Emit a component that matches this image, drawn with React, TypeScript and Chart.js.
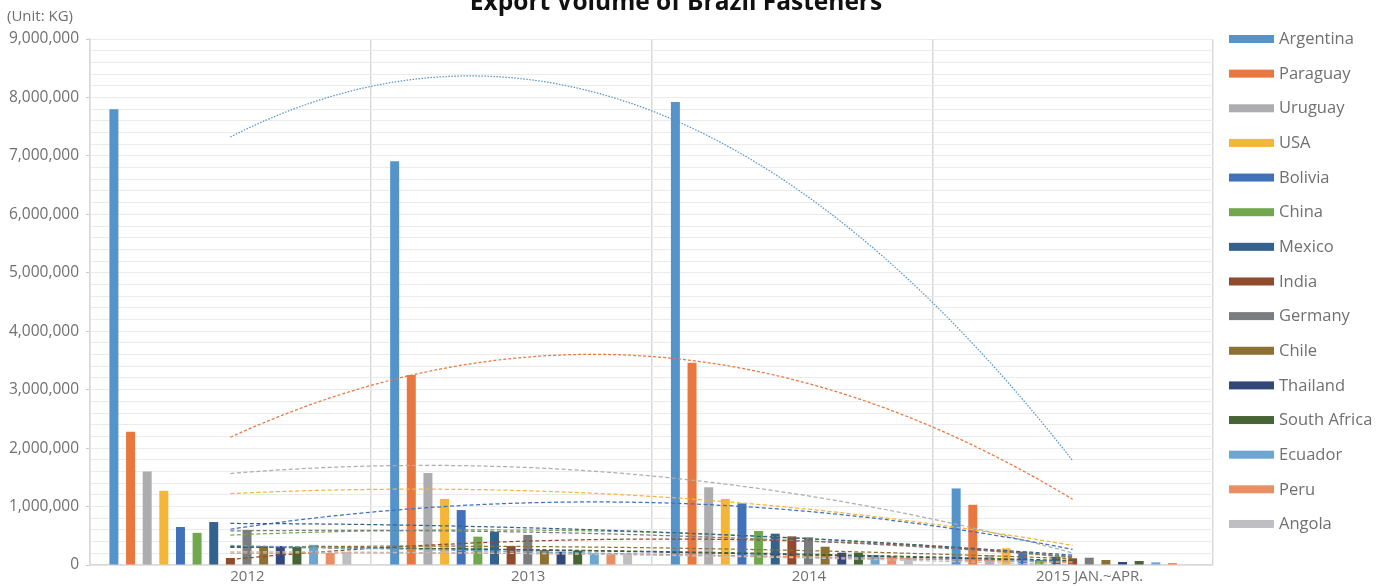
import React, { useEffect, useRef } from 'react';
import { Chart, registerables } from 'chart.js';

Chart.register(...registerables);

// Export volume (kg) per destination country
const periods = ['2012', '2013', '2014', '2015 JAN.~APR.'];

const argentina = [7800000, 6910000, 7920000, 1310000];
const paraguay = [2280000, 3250000, 3460000, 1030000];
const uruguay = [1600000, 1575000, 1330000, 171000];
const usa = [1270000, 1130000, 1130000, 285000];
const bolivia = [650000, 940000, 1055000, 228000];
const china = [550000, 485000, 582000, 86000];
const mexico = [735000, 570000, 536000, 142000];
const india = [120000, 325000, 490000, 114000];
const germany = [600000, 515000, 474000, 125000];
const chile = [325000, 256000, 313000, 86000];
const thailand = [325000, 228000, 211000, 51000];
const southAfrica = [310000, 245000, 211000, 68000];
const ecuador = [345000, 200000, 171000, 46000];
const peru = [205000, 188000, 154000, 34000];
const angola = [225000, 200000, 125000, 0];

const countries = [
  'Argentina', 'Paraguay', 'Uruguay', 'USA', 'Bolivia', 'China', 'Mexico', 'India',
  'Germany', 'Chile', 'Thailand', 'South Africa', 'Ecuador', 'Peru', 'Angola',
];
const seriesValues = [
  argentina, paraguay, uruguay, usa, bolivia, china, mexico, india,
  germany, chile, thailand, southAfrica, ecuador, peru, angola,
];
const seriesColors = [
  '#5594CA', '#E8783F', '#ADADB0', '#F5B537', '#4071BA', '#71A84F', '#33628F', '#914A2C',
  '#7B7C80', '#8C7133', '#334879', '#476435', '#6EA6D2', '#EA8F63', '#BFBFC3',
];

const yTickMax = 9000000;
const yTickStep = 200000;
const yLabelStep = 1000000;

const FONT = "'Open Sans', 'Noto Sans', sans-serif";
const TEXT_COLOR = '#707070';

// Least-squares quadratic fit over category indices 0..n-1
function quadFit(values: number[]): [number, number, number] {
  let s0 = 0, s1 = 0, s2 = 0, s3 = 0, s4 = 0, t0 = 0, t1 = 0, t2 = 0;
  values.forEach((v, i) => {
    if (v === null || v === undefined) return;
    s0 += 1; s1 += i; s2 += i * i; s3 += i * i * i; s4 += i * i * i * i;
    t0 += v; t1 += v * i; t2 += v * i * i;
  });
  const m = [
    [s0, s1, s2, t0],
    [s1, s2, s3, t1],
    [s2, s3, s4, t2],
  ];
  for (let c = 0; c < 3; c++) {
    let p = c;
    for (let r = c + 1; r < 3; r++) if (Math.abs(m[r][c]) > Math.abs(m[p][c])) p = r;
    [m[c], m[p]] = [m[p], m[c]];
    for (let r = 0; r < 3; r++) {
      if (r === c) continue;
      const f = m[r][c] / m[c][c];
      for (let k = c; k < 4; k++) m[r][k] -= f * m[c][k];
    }
  }
  return [m[0][3] / m[0][0], m[1][3] / m[1][1], m[2][3] / m[2][2]];
}

const trendlinePlugin = {
  id: 'polyTrendlines',
  afterDatasetsDraw(chart: any) {
    const { ctx, chartArea, scales } = chart;
    const xs = scales.x;
    const ys = scales.y;
    ctx.save();
    ctx.beginPath();
    ctx.rect(chartArea.left, chartArea.top, chartArea.width, chartArea.height);
    ctx.clip();
    chart.data.datasets.forEach((ds: any, i: number) => {
      const values = ds.data as number[];
      const [a, b, c] = quadFit(values);
      const last = values.length - 1;
      const steps = 120;
      ctx.beginPath();
      for (let k = 0; k <= steps; k++) {
        const t = (k / steps) * last;
        const px = xs.getPixelForValue(t);
        const py = ys.getPixelForValue(a + b * t + c * t * t);
        if (k === 0) ctx.moveTo(px, py);
        else ctx.lineTo(px, py);
      }
      ctx.strokeStyle = ds.backgroundColor;
      ctx.lineWidth = 1.25;
      ctx.setLineDash(i === 0 ? [1.5, 1.5] : i === 1 ? [3, 2] : [4, 2.5]);
      ctx.stroke();
    });
    ctx.restore();
  },
};

const decorationsPlugin = {
  id: 'decorations',
  afterDraw(chart: any) {
    const { ctx } = chart;
    ctx.save();
    // title
    ctx.fillStyle = '#111111';
    ctx.font = `bold 24.5px ${FONT}`;
    ctx.textAlign = 'center';
    ctx.textBaseline = 'alphabetic';
    ctx.fillText('Export Volume of Brazil Fasteners', 676, 10);
    // unit label
    ctx.fillStyle = TEXT_COLOR;
    ctx.font = `15px ${FONT}`;
    ctx.textAlign = 'left';
    ctx.textBaseline = 'middle';
    ctx.fillText('(Unit: KG)', 7, 17);
    // legend
    ctx.font = `16.5px ${FONT}`;
    chart.data.datasets.forEach((ds: any, i: number) => {
      const cy = 39 + i * 34.64;
      ctx.fillStyle = ds.backgroundColor;
      ctx.fillRect(1229, cy - 4, 45, 8);
      ctx.fillStyle = TEXT_COLOR;
      ctx.fillText(ds.label, 1279, cy + 0.5);
    });
    ctx.restore();
  },
};

export default function App() {
  const canvasRef = useRef<HTMLCanvasElement | null>(null);

  useEffect(() => {
    const canvas = canvasRef.current;
    if (!canvas) return;
    const chart = new Chart(canvas, {
      type: 'bar',
      data: {
        labels: periods,
        datasets: countries.map((name, i) => ({
          label: name,
          data: seriesValues[i],
          backgroundColor: seriesColors[i],
          categoryPercentage: 0.889,
          barPercentage: 0.54,
        })),
      },
      options: {
        responsive: false,
        animation: false,
        devicePixelRatio: 1,
        layout: { padding: { top: 39, right: 175, left: 0, bottom: 0 } },
        plugins: {
          legend: { display: false },
          title: { display: false },
          tooltip: { enabled: false },
        },
        scales: {
          x: {
            grid: { offset: true, color: '#d9d9d9', lineWidth: 1.5, drawTicks: false },
            border: { color: '#d9d9d9', width: 1.5 },
            ticks: { color: TEXT_COLOR, font: { family: FONT, size: 15 }, padding: 3, labelOffset: 17 },
            afterFit: (scale: any) => { scale.height = 21; },
          },
          y: {
            min: 0,
            max: yTickMax,
            grid: {
              color: '#ebebeb',
              lineWidth: 1,
              tickLength: 4,
              tickColor: (c: any) => (c.tick && c.tick.value % yLabelStep === 0 ? '#c8c8c8' : 'rgba(0,0,0,0)'),
            },
            border: { color: '#d9d9d9', width: 1.5 },
            ticks: {
              stepSize: yTickStep,
              color: TEXT_COLOR,
              font: { family: FONT, size: 15.5 },
              padding: 7,
              autoSkip: false,
              callback: (v: any) => (Number(v) % yLabelStep === 0 ? Number(v).toLocaleString('en-US') : ''),
            },
            afterFit: (scale: any) => { scale.width = 90; },
          },
        },
      },
      plugins: [trendlinePlugin, decorationsPlugin],
    });
    return () => chart.destroy();
  }, []);

  return (
    <div style={{ position: 'absolute', left: 0, top: 0, width: 1388, height: 586, background: '#ffffff' }}>
      <canvas ref={canvasRef} width={1388} height={586} style={{ display: 'block' }} />
    </div>
  );
}
